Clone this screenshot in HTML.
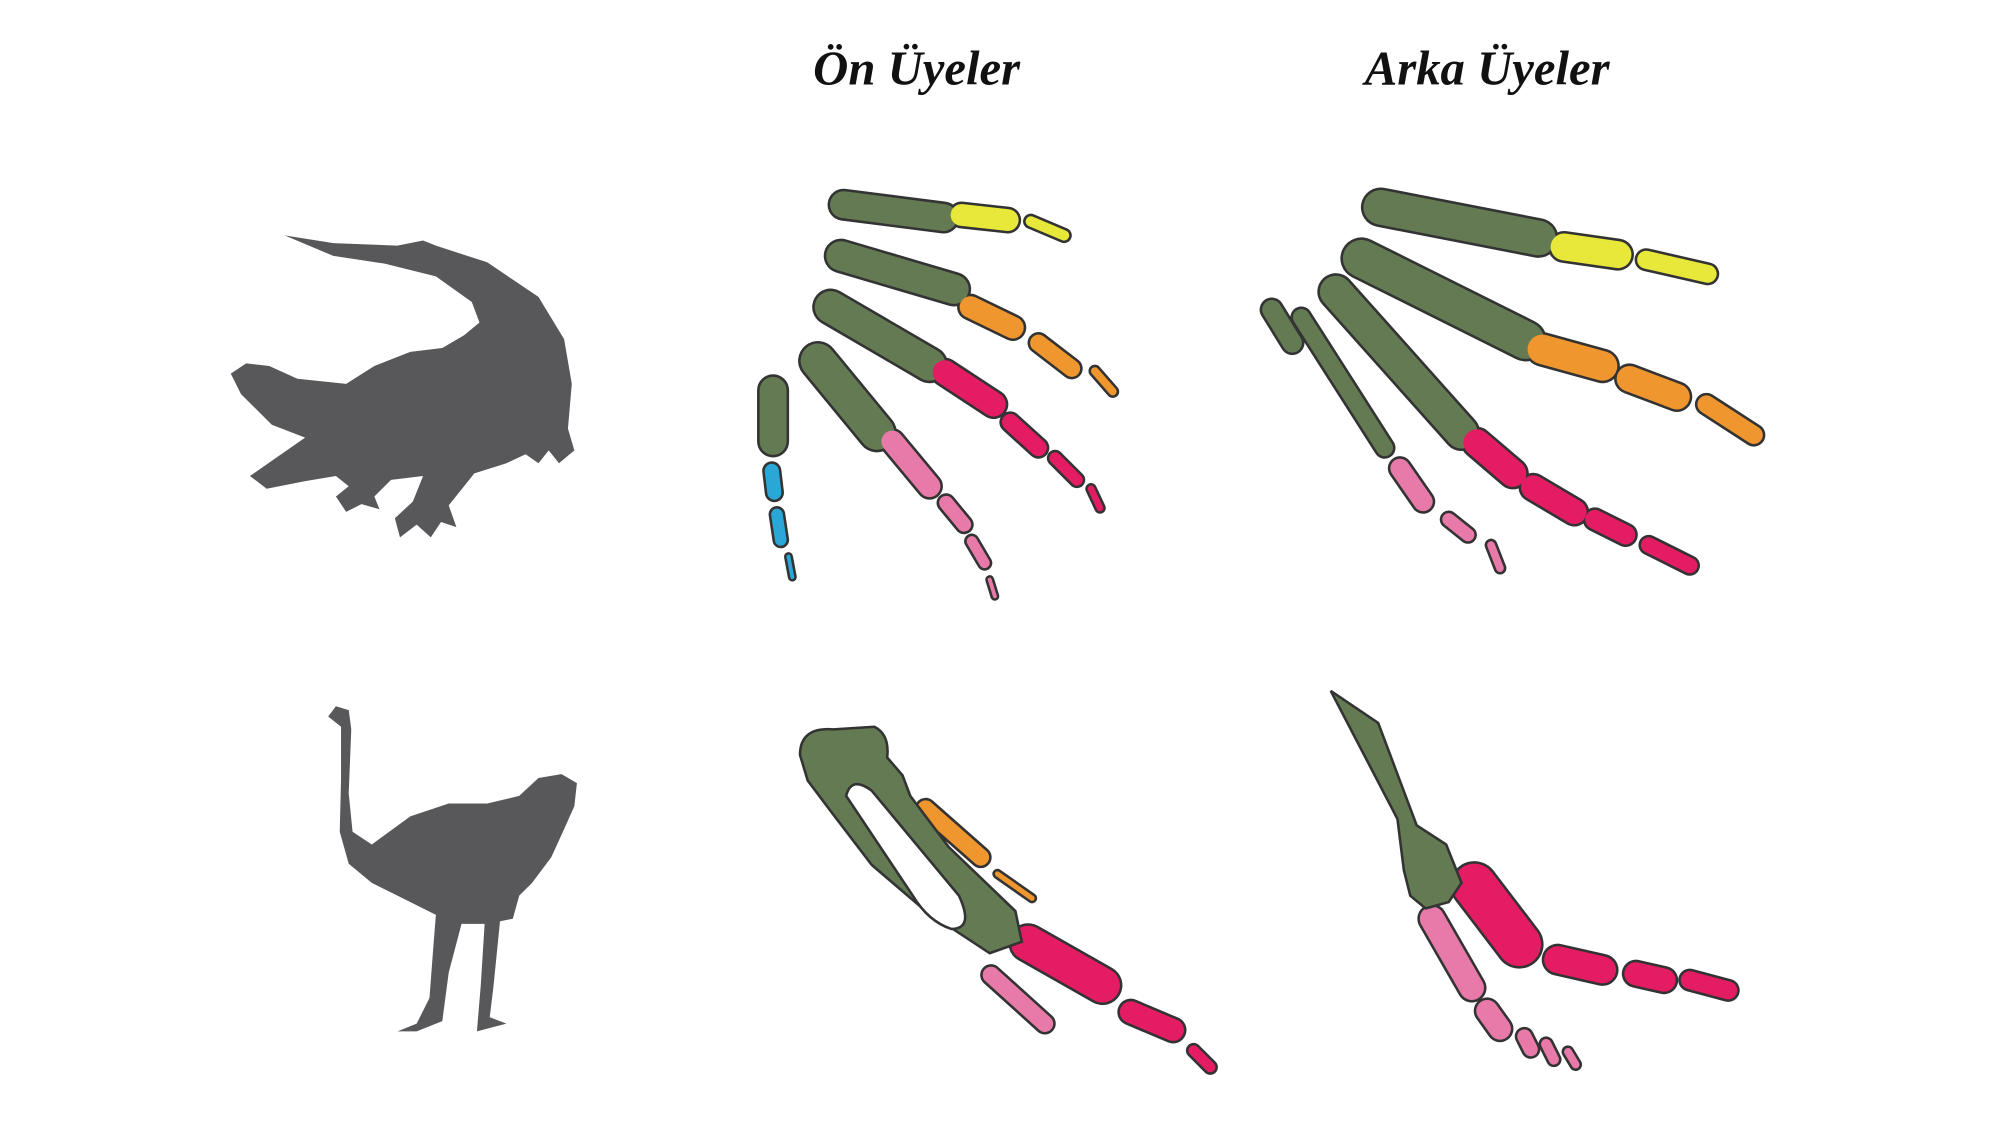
<!DOCTYPE html>
<html><head><meta charset="utf-8"><style>
html,body{margin:0;padding:0;background:#fff;width:2000px;height:1126px;overflow:hidden}
svg{display:block}
</style></head><body>
<svg width="2000" height="1126" viewBox="0 0 1560 880" preserveAspectRatio="none" xmlns="http://www.w3.org/2000/svg">
<rect width="1560" height="880" fill="#fff"/>
<text x="715" y="66" text-anchor="middle" font-family="Liberation Serif, serif" font-weight="bold" font-style="italic" font-size="38" fill="#111">Ön Üyeler</text>
<text x="1160" y="66" text-anchor="middle" font-family="Liberation Serif, serif" font-weight="bold" font-style="italic" font-size="38" fill="#111">Arka Üyeler</text>

<!-- crocodile -->
<path fill="#58585a" d="M222,184 L260,190 L310,192 L330,188 L340,192 L380,205 L420,232 L440,265 L446,300 L443,335 L448,352 L436,362 L428,352 L420,362 L410,355 L395,362 L370,370 L350,395 L356,412 L344,408 L336,420 L325,410 L312,420 L308,405 L322,392 L330,372 L305,375 L292,388 L296,398 L282,394 L270,400 L262,388 L272,380 L262,372 L238,376 L208,382 L195,372 L215,358 L238,342 L212,332 L188,308 L180,292 L192,284 L210,286 L232,296 L270,300 L292,286 L320,275 L345,272 L362,262 L374,252 L368,236 L340,216 L300,206 L260,200 Z"/>

<!-- ostrich -->
<path fill="#58585a" d="M256,560 L262,552 L272,555 L274,570 L272,620 L275,650 L290,660 L320,638 L350,628 L380,628 L405,622 L420,608 L438,605 L450,612 L448,630 L440,648 L430,670 L415,690 L405,700 L400,718 L390,720 L385,770 L382,795 L395,800 L372,806 L375,770 L378,722 L360,722 L350,760 L345,798 L325,806 L310,806 L325,800 L335,780 L338,740 L340,715 L310,700 L290,690 L272,675 L265,650 L266,610 L266,568 Z"/>

<g stroke-linecap="round" fill="none">
<g stroke="#333">
<line x1="658" y1="160" x2="736" y2="170" stroke-width="25"/>
<line x1="750" y1="168" x2="786" y2="172" stroke-width="21"/>
<line x1="804" y1="173" x2="830" y2="184" stroke-width="12"/>
<line x1="656" y1="200" x2="744" y2="226" stroke-width="27"/>
<line x1="757" y1="240" x2="790" y2="256" stroke-width="21"/>
<line x1="810" y1="268" x2="836" y2="288" stroke-width="17"/>
<line x1="854" y1="290" x2="868" y2="306" stroke-width="10"/>
<line x1="648" y1="240" x2="725" y2="285" stroke-width="29"/>
<line x1="737" y1="291" x2="775" y2="316" stroke-width="23"/>
<line x1="788" y1="330" x2="810" y2="350" stroke-width="17"/>
<line x1="823" y1="358" x2="840" y2="375" stroke-width="13"/>
<line x1="851" y1="382" x2="858" y2="397" stroke-width="9"/>
<line x1="638" y1="282" x2="684" y2="338" stroke-width="31"/>
<line x1="696" y1="345" x2="725" y2="380" stroke-width="21"/>
<line x1="738" y1="393" x2="752" y2="410" stroke-width="15"/>
<line x1="758" y1="423" x2="768" y2="440" stroke-width="12"/>
<line x1="772" y1="453" x2="776" y2="466" stroke-width="7"/>
<line x1="603" y1="305" x2="603" y2="345" stroke-width="25"/>
<line x1="602" y1="368" x2="604" y2="385" stroke-width="15"/>
<line x1="606" y1="402" x2="609" y2="422" stroke-width="13"/>
<line x1="615" y1="435" x2="618" y2="451" stroke-width="7"/>
<line x1="1077" y1="162" x2="1200" y2="186" stroke-width="31"/>
<line x1="1220" y1="193" x2="1262" y2="199" stroke-width="25"/>
<line x1="1284" y1="203" x2="1332" y2="214" stroke-width="18"/>
<line x1="1062" y1="202" x2="1190" y2="266" stroke-width="33"/>
<line x1="1203" y1="273" x2="1250" y2="286" stroke-width="27"/>
<line x1="1271" y1="296" x2="1308" y2="310" stroke-width="24"/>
<line x1="1331" y1="316" x2="1368" y2="340" stroke-width="18"/>
<line x1="1042" y1="228" x2="1140" y2="338" stroke-width="29"/>
<line x1="1152" y1="346" x2="1180" y2="370" stroke-width="25"/>
<line x1="1196" y1="381" x2="1228" y2="400" stroke-width="23"/>
<line x1="1244" y1="406" x2="1268" y2="418" stroke-width="19"/>
<line x1="1286" y1="426" x2="1318" y2="442" stroke-width="16"/>
<line x1="1015" y1="248" x2="1080" y2="350" stroke-width="17"/>
<line x1="1092" y1="366" x2="1110" y2="392" stroke-width="19"/>
<line x1="1130" y1="406" x2="1145" y2="418" stroke-width="14"/>
<line x1="1163" y1="426" x2="1170" y2="444" stroke-width="10"/>
<line x1="992" y1="242" x2="1008" y2="268" stroke-width="19"/>
<line x1="722" y1="632" x2="765" y2="670" stroke-width="17"/>
<line x1="778" y1="683" x2="805" y2="702" stroke-width="8"/>
<line x1="802" y1="737" x2="860" y2="770" stroke-width="31"/>
<line x1="882" y1="791" x2="915" y2="805" stroke-width="21"/>
<line x1="931" y1="821" x2="944" y2="834" stroke-width="12"/>
<line x1="773" y1="762" x2="815" y2="800" stroke-width="17"/>
<line x1="1150" y1="692" x2="1185" y2="738" stroke-width="38"/>
<line x1="1215" y1="750" x2="1250" y2="758" stroke-width="25"/>
<line x1="1276" y1="761" x2="1298" y2="766" stroke-width="22"/>
<line x1="1318" y1="766" x2="1348" y2="774" stroke-width="18"/>
<line x1="1117" y1="718" x2="1148" y2="772" stroke-width="23"/>
<line x1="1160" y1="790" x2="1170" y2="804" stroke-width="21"/>
<line x1="1189" y1="810" x2="1194" y2="820" stroke-width="15"/>
<line x1="1206" y1="816" x2="1212" y2="828" stroke-width="12"/>
<line x1="1223" y1="822" x2="1229" y2="832" stroke-width="10"/>
</g>
<g stroke="#637a53">
<line x1="658" y1="160" x2="736" y2="170" stroke-width="21"/>
<line x1="656" y1="200" x2="744" y2="226" stroke-width="23"/>
<line x1="648" y1="240" x2="725" y2="285" stroke-width="25"/>
<line x1="638" y1="282" x2="684" y2="338" stroke-width="27"/>
<line x1="603" y1="305" x2="603" y2="345" stroke-width="21"/>
<line x1="1077" y1="162" x2="1200" y2="186" stroke-width="27"/>
<line x1="1062" y1="202" x2="1190" y2="266" stroke-width="29"/>
<line x1="1042" y1="228" x2="1140" y2="338" stroke-width="25"/>
<line x1="1015" y1="248" x2="1080" y2="350" stroke-width="13"/>
<line x1="992" y1="242" x2="1008" y2="268" stroke-width="15"/>
</g>
<g stroke="#e8e83a">
<line x1="750" y1="168" x2="786" y2="172" stroke-width="17"/>
<line x1="804" y1="173" x2="830" y2="184" stroke-width="8"/>
<line x1="1220" y1="193" x2="1262" y2="199" stroke-width="21"/>
<line x1="1284" y1="203" x2="1332" y2="214" stroke-width="14"/>
</g>
<g stroke="#f0962e">
<line x1="757" y1="240" x2="790" y2="256" stroke-width="17"/>
<line x1="810" y1="268" x2="836" y2="288" stroke-width="13"/>
<line x1="854" y1="290" x2="868" y2="306" stroke-width="6"/>
<line x1="1203" y1="273" x2="1250" y2="286" stroke-width="23"/>
<line x1="1271" y1="296" x2="1308" y2="310" stroke-width="20"/>
<line x1="1331" y1="316" x2="1368" y2="340" stroke-width="14"/>
<line x1="722" y1="632" x2="765" y2="670" stroke-width="13"/>
<line x1="778" y1="683" x2="805" y2="702" stroke-width="4"/>
</g>
<g stroke="#e41c63">
<line x1="737" y1="291" x2="775" y2="316" stroke-width="19"/>
<line x1="788" y1="330" x2="810" y2="350" stroke-width="13"/>
<line x1="823" y1="358" x2="840" y2="375" stroke-width="9"/>
<line x1="851" y1="382" x2="858" y2="397" stroke-width="5"/>
<line x1="1152" y1="346" x2="1180" y2="370" stroke-width="21"/>
<line x1="1196" y1="381" x2="1228" y2="400" stroke-width="19"/>
<line x1="1244" y1="406" x2="1268" y2="418" stroke-width="15"/>
<line x1="1286" y1="426" x2="1318" y2="442" stroke-width="12"/>
<line x1="802" y1="737" x2="860" y2="770" stroke-width="27"/>
<line x1="882" y1="791" x2="915" y2="805" stroke-width="17"/>
<line x1="931" y1="821" x2="944" y2="834" stroke-width="8"/>
<line x1="1150" y1="692" x2="1185" y2="738" stroke-width="34"/>
<line x1="1215" y1="750" x2="1250" y2="758" stroke-width="21"/>
<line x1="1276" y1="761" x2="1298" y2="766" stroke-width="18"/>
<line x1="1318" y1="766" x2="1348" y2="774" stroke-width="14"/>
</g>
<g stroke="#e77aa8">
<line x1="696" y1="345" x2="725" y2="380" stroke-width="17"/>
<line x1="738" y1="393" x2="752" y2="410" stroke-width="11"/>
<line x1="758" y1="423" x2="768" y2="440" stroke-width="8"/>
<line x1="772" y1="453" x2="776" y2="466" stroke-width="3"/>
<line x1="1092" y1="366" x2="1110" y2="392" stroke-width="15"/>
<line x1="1130" y1="406" x2="1145" y2="418" stroke-width="10"/>
<line x1="1163" y1="426" x2="1170" y2="444" stroke-width="6"/>
<line x1="773" y1="762" x2="815" y2="800" stroke-width="13"/>
<line x1="1117" y1="718" x2="1148" y2="772" stroke-width="19"/>
<line x1="1160" y1="790" x2="1170" y2="804" stroke-width="17"/>
<line x1="1189" y1="810" x2="1194" y2="820" stroke-width="11"/>
<line x1="1206" y1="816" x2="1212" y2="828" stroke-width="8"/>
<line x1="1223" y1="822" x2="1229" y2="832" stroke-width="6"/>
</g>
<g stroke="#2aa7d6">
<line x1="602" y1="368" x2="604" y2="385" stroke-width="11"/>
<line x1="606" y1="402" x2="609" y2="422" stroke-width="9"/>
<line x1="615" y1="435" x2="618" y2="451" stroke-width="3"/>
</g>
</g>

<path fill="#637a53" stroke="#333" stroke-width="2" d="M624,590 Q624,568 650,570 L682,568 Q694,574 692,592 L704,606 L710,622 L740,662 L792,712 L797,736 L772,745 L722,712 L680,676 L648,634 L630,610 Z"/>
<path fill="#fff" stroke="#333" stroke-width="2" d="M660,622 Q664,606 680,618 L748,700 Q760,726 742,726 Q724,720 712,700 Z"/>
<path fill="#637a53" stroke="#333" stroke-width="2" d="M1038,540 L1075,565 L1105,645 L1128,660 L1140,690 L1130,705 L1112,710 L1100,700 L1095,680 L1090,640 Z"/>
</svg>
</body></html>
